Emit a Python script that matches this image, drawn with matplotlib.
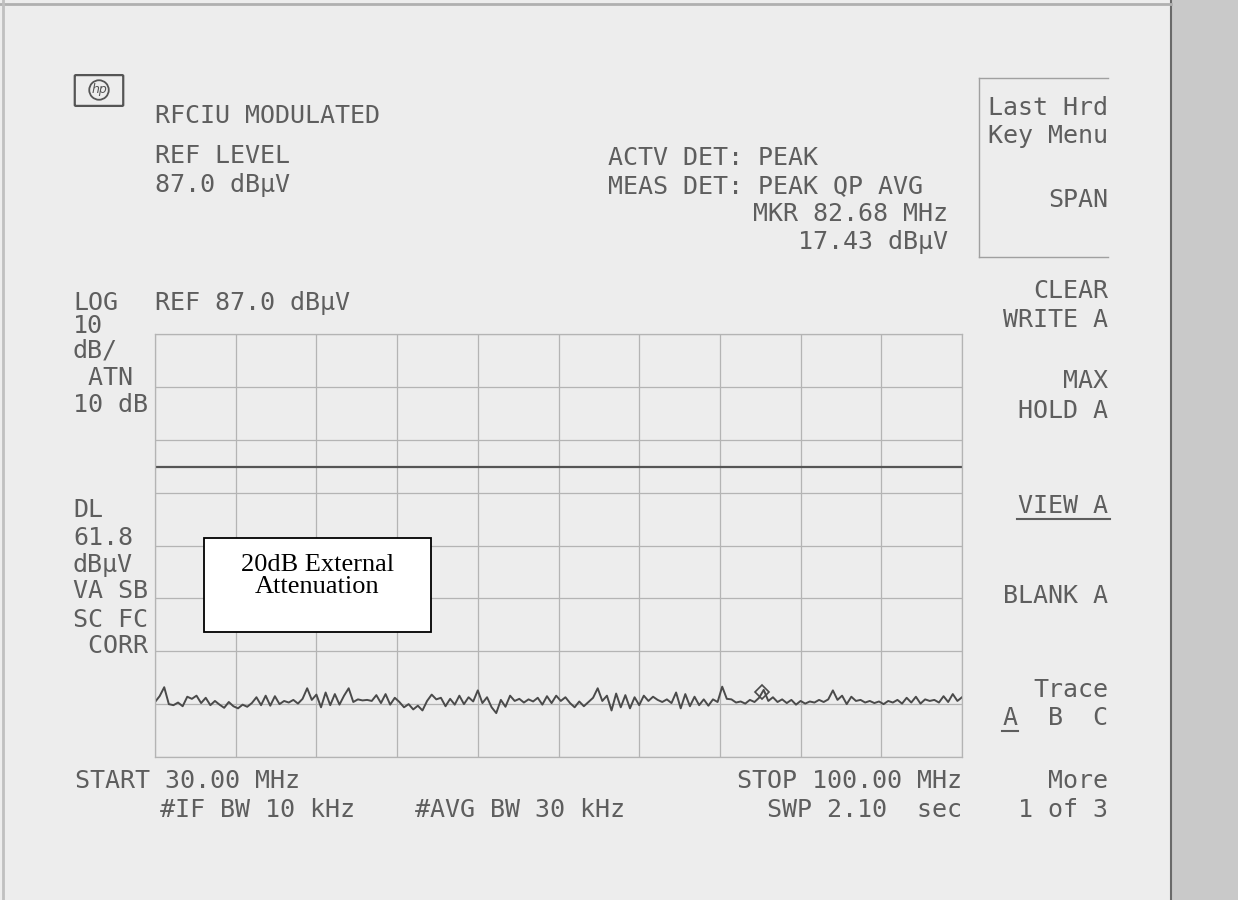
import numpy as np
import matplotlib.pyplot as plt
from matplotlib.patches import Rectangle, FancyBboxPatch
from matplotlib.lines import Line2D

# analyzer settings
freq_start, freq_stop = 30.0, 100.0
ref_level = 87.0
db_per_div = 10
n_divs = 8
display_line = 61.8
marker_freq = 82.68

# trace A (dBuV), 30 -> 100 MHz
trace_dbuv = [
    17.4, 18.5, 20.2, 17.0, 16.8, 17.3, 16.6, 18.4, 18.0, 18.6,
    17.2, 18.2, 16.8, 17.6, 16.9, 16.3, 17.4, 16.6, 16.2, 16.9,
    16.5, 17.2, 18.3, 16.8, 18.6, 16.7, 18.5, 17.0, 17.6, 17.3,
    17.8, 17.1, 18.0, 20.0, 17.8, 18.8, 16.4, 19.2, 16.8, 18.9,
    16.9, 18.6, 20.0, 17.4, 17.9, 17.7, 17.8, 17.6, 18.7, 17.2,
    18.9, 16.9, 18.2, 17.4, 16.4, 17.0, 16.0, 16.7, 15.8, 17.6,
    18.8, 17.9, 18.2, 16.6, 18.0, 16.9, 18.6, 17.0, 18.3, 17.5,
    19.6, 17.2, 18.3, 16.4, 15.3, 17.8, 16.5, 18.6, 17.6, 18.0,
    17.3, 17.9, 17.5, 18.2, 16.9, 18.5, 17.2, 18.6, 17.6, 18.3,
    17.2, 16.4, 17.5, 16.6, 17.4, 18.2, 20.0, 17.6, 18.6, 15.8,
    19.0, 16.4, 18.7, 16.2, 18.3, 16.8, 18.6, 17.6, 18.4, 17.8,
    17.4, 17.9, 17.2, 19.2, 16.2, 18.9, 16.6, 18.4, 16.8, 17.9,
    16.7, 17.9, 17.4, 20.3, 18.0, 17.9, 17.3, 17.5, 17.1, 17.8,
    17.4, 18.2, 19.7, 17.6, 18.3, 17.4, 17.9, 17.2, 17.8, 16.9,
    17.6, 17.1, 17.5, 17.3, 17.8, 17.4, 17.9, 19.6, 17.8, 18.6,
    17.0, 18.4, 17.6, 17.8, 17.3, 17.6, 17.2, 17.5, 17.0, 17.6,
    17.3, 17.8, 17.1, 18.2, 17.3, 18.4, 17.1, 17.9, 17.6, 17.8,
    17.3, 18.5, 17.4, 18.9, 17.6, 18.3,
]

header_left = ["RFCIU MODULATED", "REF LEVEL", "87.0 dBμV"]
header_mid = ["ACTV DET: PEAK", "MEAS DET: PEAK QP AVG"]
marker_text = ["MKR 82.68 MHz", "17.43 dBμV"]
left_col = ["LOG", "10", "dB/", " ATN", "10 dB", "DL", "61.8", "dBμV", "VA SB", "SC FC", " CORR"]
softkeys = ["Last Hrd", "Key Menu", "SPAN", "CLEAR", "WRITE A", "MAX", "HOLD A",
            "VIEW A", "BLANK A", "Trace", "A  B  C", "More", "1 of 3"]

W, H = 1238, 900
TXT = "#5e5e5e"
GRID = "#b4b4b4"

fig = plt.figure(figsize=(W / 100, H / 100), dpi=100)
fig.patch.set_facecolor("#ededed")


def put(x, y, s, ha="left", **kw):
    fig.text(x / W, 1 - y / H, s, ha=ha, va="baseline", family="DejaVu Sans Mono",
             fontsize=18, color=TXT, **kw)


def hline(x0, x1, y, **kw):
    fig.add_artist(Line2D([x0 / W, x1 / W], [1 - y / H, 1 - y / H], transform=fig.transFigure, **kw))


def vline(x, y0, y1, **kw):
    fig.add_artist(Line2D([x / W, x / W], [1 - y0 / H, 1 - y1 / H], transform=fig.transFigure, **kw))


# paper edges and the grey strip on the right
fig.add_artist(Rectangle((1171 / W, 0), (W - 1171) / W, 1, transform=fig.transFigure,
                         facecolor="#c9c9c9", edgecolor="none"))
vline(1171, 0, H, color="#6a6a6a", lw=1.5)
hline(0, 1171, 4, color="#b0b0b0", lw=2)
vline(3, 0, H, color="#c0c0c0", lw=2)

# graticule
ax = fig.add_axes([155 / W, 1 - 757 / H, (962 - 155) / W, (757 - 334) / H])
ax.set_facecolor("none")
bottom = ref_level - n_divs * db_per_div
ax.set_xlim(freq_start, freq_stop)
ax.set_ylim(bottom, ref_level)
ax.set_xticks(np.linspace(freq_start, freq_stop, 11))
ax.set_yticks(np.arange(bottom, ref_level + 1, db_per_div))
ax.grid(True, color=GRID, lw=0.9)
ax.tick_params(length=0, labelbottom=False, labelleft=False)
for s in ax.spines.values():
    s.set_color(GRID)
    s.set_linewidth(0.9)

freqs = np.linspace(freq_start, freq_stop, len(trace_dbuv))
ax.plot(freqs, trace_dbuv, color="#4a4a4a", lw=1.4)
ax.axhline(display_line, color="#555555", lw=1.6)
ax.plot(marker_freq, np.interp(marker_freq, freqs, trace_dbuv), marker="D", ms=7,
        mfc="none", mec="#4a4a4a", mew=1.2)

# hp logo
fig.add_artist(FancyBboxPatch((76 / W, 1 - 105 / H), 46 / W, 29 / H, transform=fig.transFigure,
                              boxstyle="round,pad=0.001", facecolor="none", edgecolor="#555555", lw=1.6))
fig.text(99 / W, 1 - 90 / H, "hp", ha="center", va="center", fontsize=9, style="italic",
         color="#555555", bbox=dict(boxstyle="circle,pad=0.15", fc="none", ec="#555555", lw=1.3))

# header
for s, y in zip(header_left, [123, 163, 192]):
    put(155, y, s)
for s, y in zip(header_mid, [165, 193]):
    put(608, y, s)
for s, y in zip(marker_text, [221, 249]):
    put(948, y, s, ha="right")

put(155, 310, "REF 87.0 dBμV")
for s, y in zip(left_col, [310, 333, 357, 385, 412, 517, 545, 572, 598, 627, 653]):
    put(73, y, s)

# softkey menu
hline(979, 1108, 78, color="#a0a0a0", lw=1)
hline(979, 1108, 257, color="#a0a0a0", lw=1)
vline(979, 78, 257, color="#a0a0a0", lw=1)
soft_y = [115, 143, 207, 298, 327, 388, 418, 513, 603, 697, 725, 788, 817]
for s, y in zip(softkeys, soft_y):
    put(1108, y, s, ha="right")
hline(1017, 1110, 519, color=TXT, lw=1.5)
hline(1002, 1018, 731, color=TXT, lw=1.5)

# footer
put(75, 788, "START 30.00 MHz")
put(160, 817, "#IF BW 10 kHz")
put(415, 817, "#AVG BW 30 kHz")
put(962, 788, "STOP 100.00 MHz", ha="right")
put(962, 817, "SWP 2.10  sec", ha="right")

# added annotation
fig.add_artist(Rectangle((204 / W, 1 - 632 / H), 227 / W, 94 / H, transform=fig.transFigure,
                         facecolor="white", edgecolor="black", lw=1.3))
fig.text(317.5 / W, 1 - 576 / H, "20dB External\nAttenuation", ha="center", va="center",
         family="Liberation Serif", fontsize=19, color="black", linespacing=1.05)

fig.savefig("out.png", dpi=100, facecolor=fig.get_facecolor())
